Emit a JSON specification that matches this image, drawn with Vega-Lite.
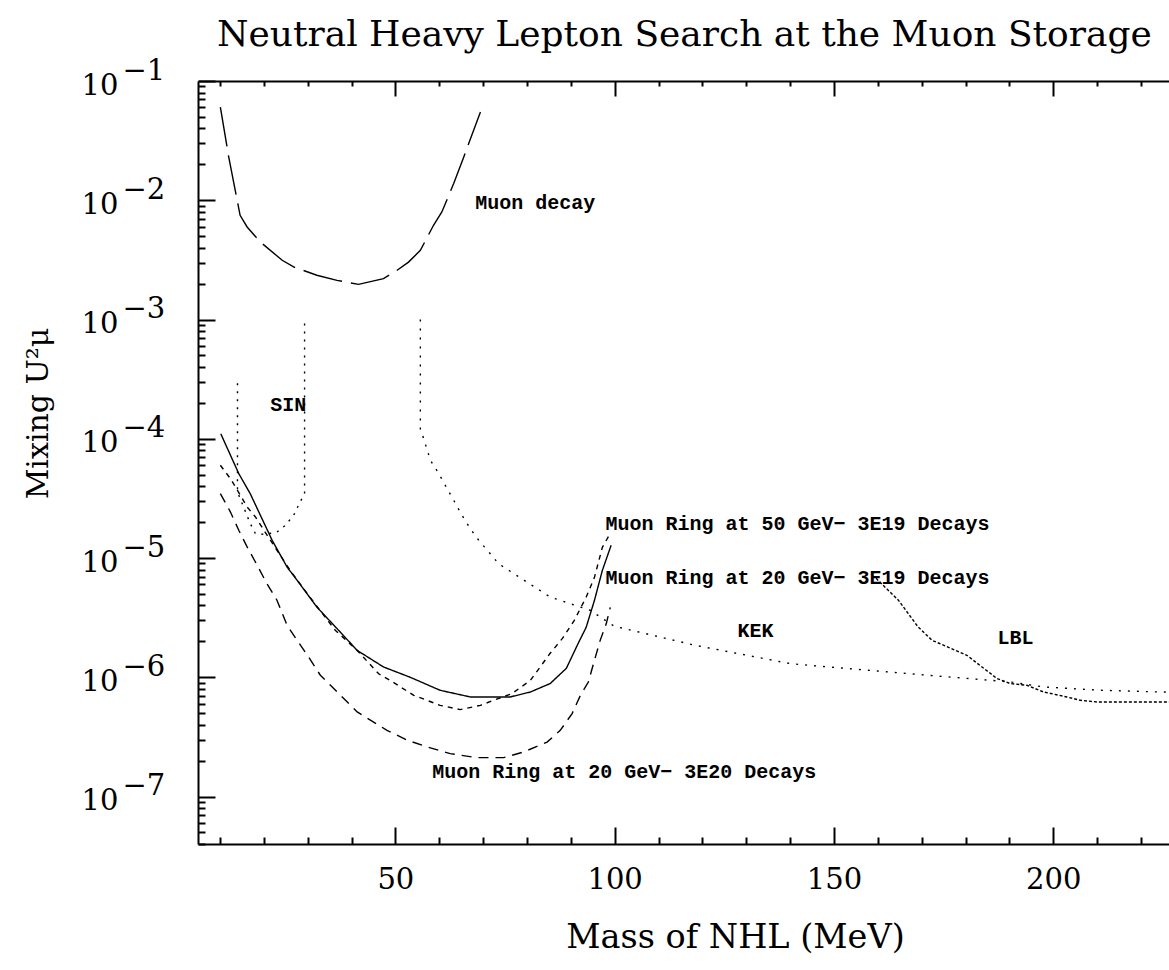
{
  "$schema": "https://vega.github.io/schema/vega-lite/v6.json",
  "width": 971,
  "height": 763,
  "autosize": {"type": "none"},
  "padding": {"left": 198, "top": 81, "right": 0, "bottom": 126},
  "background": "white",
  "config": {"view": {"stroke": null}, "axis": {"grid": false}},
  "title": {"text": "Neutral Heavy Lepton Search at the Muon Storage", "anchor": "start", "frame": "group", "dx": 19, "offset": -26, "baseline": "alphabetic", "font": "DejaVu Serif", "fontSize": 36, "fontWeight": "normal", "color": "black"},
  "datasets": {
    "curves": [
      {"s":"decay","i":0,"m":10.1,"u":0.0605},{"s":"decay","i":1,"m":12.0,"u":0.0231},{"s":"decay","i":2,"m":14.6,"u":0.00748},{"s":"decay","i":3,"m":16.2,"u":0.00597},{"s":"decay","i":4,"m":19.2,"u":0.00447},{"s":"decay","i":5,"m":24.2,"u":0.00314},{"s":"decay","i":6,"m":26.8,"u":0.00276},{"s":"decay","i":7,"m":32.1,"u":0.00235},{"s":"decay","i":8,"m":36.7,"u":0.00213},{"s":"decay","i":9,"m":41.6,"u":0.00197},{"s":"decay","i":10,"m":47.3,"u":0.0022},{"s":"decay","i":11,"m":50.4,"u":0.00259},{"s":"decay","i":12,"m":53.0,"u":0.00303},{"s":"decay","i":13,"m":55.7,"u":0.0038},{"s":"decay","i":14,"m":58.7,"u":0.00617},{"s":"decay","i":15,"m":60.6,"u":0.00798},{"s":"decay","i":16,"m":63.3,"u":0.0138},{"s":"decay","i":17,"m":65.6,"u":0.0231},{"s":"decay","i":18,"m":69.4,"u":0.055},
      {"s":"ringA","i":0,"m":10.2,"u":1.10e-4},{"s":"ringA","i":1,"m":14.3,"u":5.10e-5},{"s":"ringA","i":2,"m":16.9,"u":3.47e-5},{"s":"ringA","i":3,"m":21.9,"u":1.41e-5},{"s":"ringA","i":4,"m":25.3,"u":8.41e-6},{"s":"ringA","i":5,"m":27.6,"u":6.51e-6},{"s":"ringA","i":6,"m":32.1,"u":3.88e-6},{"s":"ringA","i":7,"m":36.7,"u":2.56e-6},{"s":"ringA","i":8,"m":41.3,"u":1.68e-6},{"s":"ringA","i":9,"m":47.3,"u":1.22e-6},{"s":"ringA","i":10,"m":53.4,"u":1.0e-6},{"s":"ringA","i":11,"m":60.2,"u":7.78e-7},{"s":"ringA","i":12,"m":67.1,"u":6.84e-7},{"s":"ringA","i":13,"m":76.2,"u":6.84e-7},{"s":"ringA","i":14,"m":80.8,"u":7.53e-7},{"s":"ringA","i":15,"m":85.3,"u":8.86e-7},{"s":"ringA","i":16,"m":89.0,"u":1.19e-6},{"s":"ringA","i":17,"m":91.7,"u":1.93e-6},{"s":"ringA","i":18,"m":93.5,"u":2.62e-6},{"s":"ringA","i":19,"m":95.4,"u":4.42e-6},{"s":"ringA","i":20,"m":97.2,"u":7.88e-6},{"s":"ringA","i":21,"m":99.2,"u":1.28e-5},
      {"s":"ringB","i":0,"m":10.1,"u":6.0e-5},{"s":"ringB","i":1,"m":12.4,"u":4.63e-5},{"s":"ringB","i":2,"m":14.0,"u":3.70e-5},{"s":"ringB","i":3,"m":16.2,"u":2.68e-5},{"s":"ringB","i":4,"m":18.1,"u":2.21e-5},{"s":"ringB","i":5,"m":20.3,"u":1.65e-5},{"s":"ringB","i":6,"m":26.0,"u":7.89e-6},{"s":"ringB","i":7,"m":29.9,"u":5.03e-6},{"s":"ringB","i":8,"m":36.3,"u":2.48e-6},{"s":"ringB","i":9,"m":41.3,"u":1.68e-6},{"s":"ringB","i":10,"m":46.2,"u":1.07e-6},{"s":"ringB","i":11,"m":48.8,"u":9.43e-7},{"s":"ringB","i":12,"m":54.2,"u":7.06e-7},{"s":"ringB","i":13,"m":60.2,"u":5.82e-7},{"s":"ringB","i":14,"m":64.8,"u":5.36e-7},{"s":"ringB","i":15,"m":69.4,"u":5.82e-7},{"s":"ringB","i":16,"m":72.4,"u":6.41e-7},{"s":"ringB","i":17,"m":76.6,"u":7.3e-7},{"s":"ringB","i":18,"m":80.8,"u":9.43e-7},{"s":"ringB","i":19,"m":85.3,"u":1.59e-6},{"s":"ringB","i":20,"m":88.1,"u":2.12e-6},{"s":"ringB","i":21,"m":90.8,"u":3.0e-6},{"s":"ringB","i":22,"m":93.5,"u":4.69e-6},{"s":"ringB","i":23,"m":95.4,"u":6.89e-6},{"s":"ringB","i":24,"m":97.2,"u":1.23e-5},{"s":"ringB","i":25,"m":99.0,"u":1.61e-5},
      {"s":"ringC","i":0,"m":10.1,"u":3.47e-5},{"s":"ringC","i":1,"m":12.4,"u":2.43e-5},{"s":"ringC","i":2,"m":14.3,"u":1.71e-5},{"s":"ringC","i":3,"m":16.2,"u":1.24e-5},{"s":"ringC","i":4,"m":18.5,"u":8.69e-6},{"s":"ringC","i":5,"m":20.7,"u":6.1e-6},{"s":"ringC","i":6,"m":23.0,"u":4.43e-6},{"s":"ringC","i":7,"m":25.3,"u":2.73e-6},{"s":"ringC","i":8,"m":27.6,"u":2.04e-6},{"s":"ringC","i":9,"m":30.2,"u":1.48e-6},{"s":"ringC","i":10,"m":32.9,"u":1.04e-6},{"s":"ringC","i":11,"m":35.2,"u":8.57e-7},{"s":"ringC","i":12,"m":41.3,"u":5.12e-7},{"s":"ringC","i":13,"m":48.1,"u":3.59e-7},{"s":"ringC","i":14,"m":52.7,"u":2.97e-7},{"s":"ringC","i":15,"m":57.2,"u":2.61e-7},{"s":"ringC","i":16,"m":62.5,"u":2.29e-7},{"s":"ringC","i":17,"m":68.6,"u":2.12e-7},{"s":"ringC","i":18,"m":74.7,"u":2.12e-7},{"s":"ringC","i":19,"m":79.2,"u":2.36e-7},{"s":"ringC","i":20,"m":84.6,"u":2.86e-7},{"s":"ringC","i":21,"m":87.6,"u":3.59e-7},{"s":"ringC","i":22,"m":90.3,"u":4.96e-7},{"s":"ringC","i":23,"m":92.2,"u":7.06e-7},{"s":"ringC","i":24,"m":94.0,"u":9.12e-7},{"s":"ringC","i":25,"m":95.4,"u":1.39e-6},{"s":"ringC","i":26,"m":96.7,"u":2.04e-6},{"s":"ringC","i":27,"m":98.1,"u":2.82e-6},{"s":"ringC","i":28,"m":99.0,"u":3.86e-6},
      {"s":"SIN","i":0,"m":14.0,"u":2.92e-4},{"s":"SIN","i":1,"m":14.0,"u":3.58e-5},{"s":"SIN","i":2,"m":16.9,"u":1.95e-5},{"s":"SIN","i":3,"m":18.1,"u":1.60e-5},{"s":"SIN","i":4,"m":20.3,"u":1.58e-5},{"s":"SIN","i":5,"m":23.0,"u":1.65e-5},{"s":"SIN","i":6,"m":24.9,"u":1.88e-5},{"s":"SIN","i":7,"m":26.8,"u":2.28e-5},{"s":"SIN","i":8,"m":28.1,"u":2.86e-5},{"s":"SIN","i":9,"m":29.3,"u":3.47e-5},{"s":"SIN","i":10,"m":29.3,"u":1.0e-3},
      {"s":"KEK","i":0,"m":55.7,"u":1.0e-3},{"s":"KEK","i":1,"m":55.7,"u":1.18e-4},{"s":"KEK","i":2,"m":56.1,"u":1.10e-4},{"s":"KEK","i":3,"m":58.0,"u":6.6e-5},{"s":"KEK","i":4,"m":59.9,"u":5.1e-5},{"s":"KEK","i":5,"m":61.8,"u":3.82e-5},{"s":"KEK","i":6,"m":63.3,"u":3.05e-5},{"s":"KEK","i":7,"m":65.2,"u":2.28e-5},{"s":"KEK","i":8,"m":67.1,"u":1.76e-5},{"s":"KEK","i":9,"m":69.0,"u":1.41e-5},{"s":"KEK","i":10,"m":72.0,"u":1.05e-5},{"s":"KEK","i":11,"m":73.5,"u":8.98e-6},{"s":"KEK","i":12,"m":79.4,"u":6.49e-6},{"s":"KEK","i":13,"m":85.3,"u":4.71e-6},{"s":"KEK","i":14,"m":94.4,"u":3.65e-6},{"s":"KEK","i":15,"m":99.9,"u":2.68e-6},{"s":"KEK","i":16,"m":118.2,"u":1.86e-6},{"s":"KEK","i":17,"m":140.1,"u":1.30e-6},{"s":"KEK","i":18,"m":167.4,"u":1.07e-6},{"s":"KEK","i":19,"m":190.2,"u":9.14e-7},{"s":"KEK","i":20,"m":197.8,"u":8.3e-7},{"s":"KEK","i":21,"m":210.7,"u":7.78e-7},{"s":"KEK","i":22,"m":224.4,"u":7.53e-7},{"s":"KEK","i":23,"m":226.4,"u":7.5e-7},
      {"s":"LBL","i":0,"m":159.6,"u":6.76e-6},{"s":"LBL","i":1,"m":164.7,"u":4.43e-6},{"s":"LBL","i":2,"m":169.2,"u":2.64e-6},{"s":"LBL","i":3,"m":172.4,"u":2.04e-6},{"s":"LBL","i":4,"m":180.3,"u":1.53e-6},{"s":"LBL","i":5,"m":187.2,"u":9.75e-7},{"s":"LBL","i":6,"m":190.2,"u":8.86e-7},{"s":"LBL","i":7,"m":194.0,"u":8.57e-7},{"s":"LBL","i":8,"m":197.8,"u":7.53e-7},{"s":"LBL","i":9,"m":203.1,"u":6.84e-7},{"s":"LBL","i":10,"m":206.2,"u":6.41e-7},{"s":"LBL","i":11,"m":210.0,"u":6.21e-7},{"s":"LBL","i":12,"m":224.4,"u":6.21e-7},{"s":"LBL","i":13,"m":226.4,"u":6.21e-7}
    ],
    "regionLabels": [
      {"t":"Muon decay","m":68.2,"u":9.43e-3},
      {"t":"SIN","m":21.5,"u":1.91e-4},
      {"t":"KEK","m":128.0,"u":2.43e-6},
      {"t":"LBL","m":187.3,"u":2.12e-6}
    ],
    "curveLabels": [
      {"t":"Muon Ring at 50 GeV− 3E19 Decays","m":97.9,"u":1.92e-5},
      {"t":"Muon Ring at 20 GeV− 3E19 Decays","m":97.9,"u":6.76e-6},
      {"t":"Muon Ring at 20 GeV− 3E20 Decays","m":58.4,"u":1.61e-7}
    ]
  },
  "resolve": {"axis": {"x": "independent", "y": "independent"}},
  "layer": [
    {
      "data": {"name": "curves"},
      "mark": {"type": "line", "color": "black", "clip": true},
      "encoding": {
        "x": {"field": "m", "type": "quantitative",
          "scale": {"domain": [5, 226.4], "nice": false, "zero": false},
          "axis": {"orient": "bottom", "values": [10,20,30,40,50,60,70,80,90,100,110,120,130,140,150,160,170,180,190,200,210,220],
            "labels": false, "title": null, "domain": true, "domainColor": "black", "domainWidth": 2,
            "ticks": true, "tickColor": "black", "tickWidth": 2,
            "tickSize": {"condition": {"test": "datum.value % 50 === 0", "value": -17}, "value": -7}}},
        "y": {"field": "u", "type": "quantitative",
          "scale": {"type": "log", "domain": [4e-8, 0.1], "nice": false},
          "axis": {"orient": "left",
            "values": [4e-8,5e-8,6e-8,7e-8,8e-8,9e-8,1e-7,2e-7,3e-7,4e-7,5e-7,6e-7,7e-7,8e-7,9e-7,1e-6,2e-6,3e-6,4e-6,5e-6,6e-6,7e-6,8e-6,9e-6,1e-5,2e-5,3e-5,4e-5,5e-5,6e-5,7e-5,8e-5,9e-5,1e-4,2e-4,3e-4,4e-4,5e-4,6e-4,7e-4,8e-4,9e-4,1e-3,2e-3,3e-3,4e-3,5e-3,6e-3,7e-3,8e-3,9e-3,1e-2,2e-2,3e-2,4e-2,5e-2,6e-2,7e-2,8e-2,9e-2,1e-1],
            "labels": false, "title": null, "domain": true, "domainColor": "black", "domainWidth": 2,
            "ticks": true, "tickColor": "black", "tickWidth": 2,
            "tickSize": {"condition": {"test": "abs(log(datum.value)/LN10 - round(log(datum.value)/LN10)) < 0.001", "value": -17}, "value": -7}}},
        "strokeDash": {"field": "s", "type": "nominal", "legend": null,
          "scale": {"domain": ["decay","ringA","ringB","ringC","SIN","KEK","LBL"],
                    "range": [[40,9],[1,0],[5,5],[10,7],[2,6],[2,7],[3,2]]}},
        "strokeWidth": {"field": "s", "type": "nominal", "legend": null,
          "scale": {"domain": ["decay","ringA","ringB","ringC","SIN","KEK","LBL"],
                    "range": [1.4,1.4,1.4,1.4,1.7,1.7,1.4]}},
        "order": {"field": "i", "type": "quantitative"}
      }
    },
    {
      "data": {"name": "regionLabels"},
      "mark": {"type": "text", "align": "left", "baseline": "middle", "font": "Liberation Mono", "fontWeight": "bold", "fontSize": 20, "color": "black"},
      "encoding": {
        "x": {"field": "m", "type": "quantitative",
          "scale": {"domain": [5, 226.4], "nice": false, "zero": false},
          "axis": {"orient": "top", "values": [10,20,30,40,50,60,70,80,90,100,110,120,130,140,150,160,170,180,190,200,210,220],
            "labels": false, "title": null, "domain": true, "domainColor": "black", "domainWidth": 2,
            "ticks": true, "tickColor": "black", "tickWidth": 2,
            "tickSize": {"condition": {"test": "datum.value % 50 === 0", "value": -15}, "value": -5}}},
        "y": {"field": "u", "type": "quantitative",
          "scale": {"type": "log", "domain": [4e-8, 0.1], "nice": false},
          "axis": {"orient": "left", "values": [1e-7,1e-6,1e-5,1e-4,1e-3,1e-2,1e-1],
            "domain": false, "ticks": false, "labelExpr": "'10'",
            "labelFont": "DejaVu Serif", "labelFontSize": 29, "labelColor": "black",
            "labelAlign": "right", "labelBaseline": "middle", "labelPadding": 80, "labelOffset": 4,
            "labelOverlap": false, "labelFlush": false,
            "title": "Mixing U²μ", "titleFont": "DejaVu Serif", "titleFontSize": 30, "titleFontWeight": "normal", "titleColor": "black",
            "titleAngle": 270, "titleAlign": "center", "titleBaseline": "middle", "titleX": -160, "titleY": 332}},
        "text": {"field": "t"}
      }
    },
    {
      "data": {"name": "curveLabels"},
      "mark": {"type": "text", "align": "left", "baseline": "middle", "font": "Liberation Mono", "fontWeight": "bold", "fontSize": 20, "color": "black"},
      "encoding": {
        "x": {"field": "m", "type": "quantitative",
          "scale": {"domain": [5, 226.4], "nice": false, "zero": false},
          "axis": {"orient": "bottom", "values": [50,100,150,200], "format": "d",
            "domain": false, "ticks": false,
            "labelFont": "DejaVu Serif", "labelFontSize": 29, "labelColor": "black",
            "labelBaseline": "top", "labelPadding": 21, "labelOverlap": false, "labelFlush": false,
            "title": "Mass of NHL (MeV)", "titleFont": "DejaVu Serif", "titleFontSize": 33.5, "titleFontWeight": "normal", "titleColor": "black",
            "titleAlign": "center", "titleBaseline": "middle", "titleX": 537, "titleY": 93}},
        "y": {"field": "u", "type": "quantitative",
          "scale": {"type": "log", "domain": [4e-8, 0.1], "nice": false},
          "axis": {"orient": "left", "values": [1e-7,1e-6,1e-5,1e-4,1e-3,1e-2,1e-1],
            "domain": false, "ticks": false, "labelExpr": "'−' + round(-log(datum.value)/LN10)",
            "labelFont": "DejaVu Serif", "labelFontSize": 29, "labelColor": "black",
            "labelAlign": "left", "labelBaseline": "middle", "labelPadding": 76, "labelOffset": -11,
            "labelOverlap": false, "labelFlush": false, "title": null}},
        "text": {"field": "t"}
      }
    }
  ]
}
